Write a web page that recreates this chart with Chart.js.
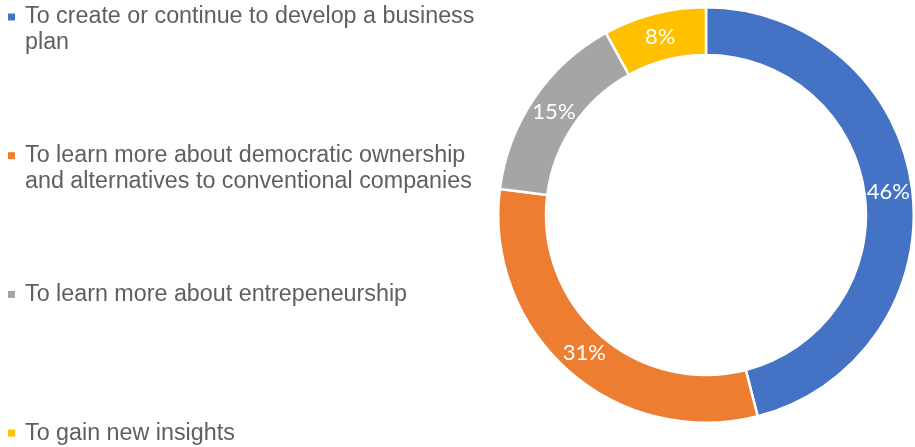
<!DOCTYPE html>
<html>
<head>
<meta charset="utf-8">
<script src="https://cdn.jsdelivr.net/npm/chart.js@4/dist/chart.umd.min.js"></script>
<style>
  html, body { margin: 0; padding: 0; background: #ffffff; }
  #wrap { width: 915px; height: 447px; position: relative; }
</style>
</head>
<body>
<div id="wrap"><canvas id="chart"></canvas></div>
<script>
// Reasons given by participants, share of responses (%)
const categories = [
  ["To create or continue to develop a business", "plan"],
  ["To learn more about democratic ownership", "and alternatives to conventional companies"],
  ["To learn more about entrepeneurship"],
  ["To gain new insights"]
];
const shares = [46, 31, 15, 8];
const sliceColors = ["#4472C4", "#ED7D31", "#A5A5A5", "#FFC000"];

// White percentage labels at the middle of each ring segment
const sliceLabels = {
  id: "sliceLabels",
  afterDatasetsDraw(chart) {
    const ctx = chart.ctx;
    const meta = chart.getDatasetMeta(0);
    ctx.save();
    ctx.font = "22px Lato, 'Open Sans', sans-serif";
    ctx.fillStyle = "#ffffff";
    ctx.textAlign = "center";
    ctx.textBaseline = "middle";
    meta.data.forEach((arc, i) => {
      const p = arc.tooltipPosition();
      ctx.fillText(chart.data.datasets[0].data[i] + "%", p.x, p.y);
    });
    ctx.restore();
  }
};

// Legend laid out down the left side, one block per category
const sideLegend = {
  id: "sideLegend",
  afterDraw(chart, args, opts) {
    const ctx = chart.ctx;
    const labels = chart.data.labels;
    const colors = chart.data.datasets[0].backgroundColor;
    ctx.save();
    ctx.font = opts.font;
    ctx.textBaseline = "middle";
    ctx.textAlign = "left";
    labels.forEach((lines, i) => {
      const y0 = opts.top + i * opts.step;
      ctx.fillStyle = colors[i];
      ctx.fillRect(opts.markerX, y0 - opts.marker / 2, opts.marker, opts.marker);
      ctx.fillStyle = opts.color;
      lines.forEach((line, j) => {
        ctx.fillText(line, opts.textX, y0 + j * opts.lineHeight);
      });
    });
    ctx.restore();
  }
};

new Chart(document.getElementById("chart"), {
  type: "doughnut",
  data: {
    labels: categories,
    datasets: [{
      data: shares,
      backgroundColor: sliceColors,
      borderColor: "#ffffff",
      borderWidth: 2.5
    }]
  },
  options: {
    responsive: true,
    maintainAspectRatio: false,
    animation: false,
    events: [],
    cutout: "77%",
    rotation: 0,
    layout: { padding: { left: 497, right: 0, top: 6, bottom: 23 } },
    plugins: {
      legend: { display: false },
      tooltip: { enabled: false },
      sideLegend: {
        font: "23.3px 'Liberation Sans', Arial, sans-serif",
        color: "#5f5f5f",
        top: 17,
        step: 138.7,
        lineHeight: 26,
        markerX: 8,
        marker: 7,
        textX: 25
      }
    }
  },
  plugins: [sliceLabels, sideLegend]
});
</script>
</body>
</html>
